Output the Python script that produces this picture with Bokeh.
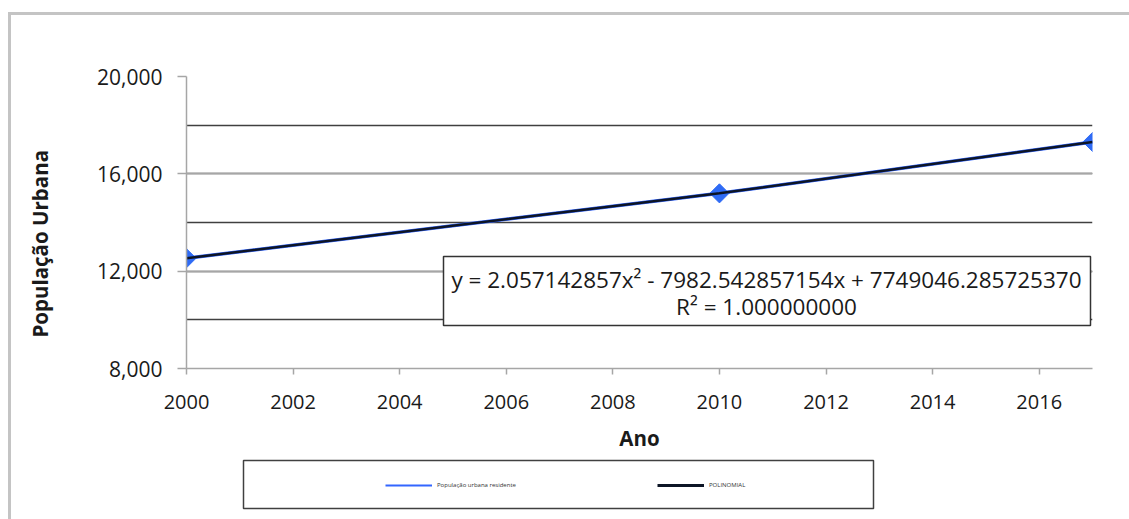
from bokeh.plotting import figure
from bokeh.layouts import column
from bokeh.models import (Range1d, SingleIntervalTicker, NumeralTickFormatter,
                          BoxAnnotation, Label, Legend, LegendItem, InlineStyleSheet)
from bokeh.embed import file_html
from bokeh.resources import INLINE

# ---- data ----
years = [2000, 2010, 2017]
populacao = [12532, 15198, 17309]
trend_years = [2000, 2010, 2017]
trend_vals = [12532, 15198, 17309]
series_names = ["População urbana residente", "POLINOMIAL"]
equation = "y = 2.057142857x² - 7982.542857154x + 7749046.285725370"
r_squared = "R² = 1.000000000"
x_title = "Ano"
y_title = "População Urbana"

FONT = "Open Sans"
NB = "\u00a0"
W, H_MAIN, H_LEG = 1129, 455, 64

p = figure(width=W, height=H_MAIN, output_backend="svg", toolbar_location=None,
           x_range=Range1d(2000, 2017), y_range=Range1d(8000, 20000),
           min_border_left=186, min_border_right=37,
           min_border_top=76, min_border_bottom=87)
p.outline_line_color = None
p.background_fill_color = "white"
p.border_fill_color = "white"

# axes
p.xaxis.ticker = SingleIntervalTicker(interval=2)
p.yaxis.ticker = SingleIntervalTicker(interval=4000, num_minor_ticks=2)
p.yaxis.formatter = NumeralTickFormatter(format="0,0")
for ax in (p.xaxis, p.yaxis):
    ax.axis_line_color = "#a6a6a6"
    ax.axis_line_width = 1.5
    ax.major_tick_line_color = "#a6a6a6"
    ax.major_tick_line_width = 1.5
    ax.major_tick_in = 0
    ax.minor_tick_line_color = None
    ax.major_label_text_font = FONT
    ax.major_label_text_color = "#1a1a1a"
    ax.axis_label_text_font = FONT
    ax.axis_label_text_font_size = "20.5px"
    ax.axis_label_text_font_style = "bold"
    ax.axis_label_text_color = "#1a1a1a"
p.xaxis.major_label_text_font_size = "20px"
p.yaxis.major_label_text_font_size = "21px"
p.xaxis.major_tick_out = 6
p.yaxis.major_tick_out = 9
p.xaxis.major_label_standoff = 20
p.yaxis.major_label_standoff = 15
p.xaxis.axis_label = x_title
p.yaxis.axis_label = y_title + NB * 8
p.xaxis.axis_label_standoff = 12
p.yaxis.axis_label_standoff = 40

# grids
p.xgrid.grid_line_color = None
p.ygrid.grid_line_color = "#a6a6a6"
p.ygrid.grid_line_width = 1.5
p.ygrid.minor_grid_line_color = "#404040"
p.ygrid.minor_grid_line_width = 1.5

# series
p.line(years, populacao, line_color="#3366FF", line_width=3.5)
p.scatter(years, populacao, marker="square", angle=0.785398, size=13.5,
          fill_color="#2F6BF5", line_color="#2F6BF5")
p.line(trend_years, trend_vals, line_color="#0d1526", line_width=2.5)

# equation box
p.add_layout(BoxAnnotation(left=443, right=1090, top=256, bottom=325,
                           left_units="canvas", right_units="canvas",
                           top_units="canvas", bottom_units="canvas",
                           fill_color="white", fill_alpha=1,
                           line_color="#333333", line_alpha=1, line_width=1.5))
p.add_layout(Label(x=766, y=279, x_units="canvas", y_units="canvas", text=equation,
                   text_align="center", text_baseline="middle",
                   text_font=FONT, text_font_size="22.5px", text_color="#1a1a1a"))
p.add_layout(Label(x=766, y=306, x_units="canvas", y_units="canvas", text=r_squared,
                   text_align="center", text_baseline="middle",
                   text_font=FONT, text_font_size="22.5px", text_color="#1a1a1a"))

# ---- legend strip below the chart ----
pl = figure(width=W, height=H_LEG, output_backend="svg", toolbar_location=None,
            x_range=Range1d(0, 1), y_range=Range1d(0, 1),
            x_axis_location=None, y_axis_location=None,
            min_border=0, min_border_left=0, min_border_right=0,
            min_border_top=0, min_border_bottom=0)
pl.outline_line_color = None
pl.xgrid.grid_line_color = None
pl.ygrid.grid_line_color = None
pl.background_fill_color = "white"
pl.border_fill_color = "white"

# legend-only renderers (the series lie outside this strip's ranges)
lg_blue = pl.line(years, populacao, line_color="#3366FF", line_width=2)
lg_black = pl.line(trend_years, trend_vals, line_color="#0d1526", line_width=3)

pl.add_layout(BoxAnnotation(left=243, right=873, top=5, bottom=53,
                            left_units="canvas", right_units="canvas",
                            top_units="canvas", bottom_units="canvas",
                            fill_alpha=0, line_color="#404040", line_alpha=1,
                            line_width=1.5))

legend = Legend(items=[LegendItem(label=series_names[0], renderers=[lg_blue]),
                       LegendItem(label=series_names[1], renderers=[lg_black])],
                location=(199, 29), orientation="horizontal",
                padding=0, spacing=5, margin=0,
                glyph_width=47, glyph_height=10, label_width=215, label_height=10,
                label_standoff=5, label_text_font=FONT, label_text_font_size="6px",
                label_text_color="#333333",
                border_line_color=None, background_fill_alpha=0)
pl.add_layout(legend)

layout = column(p, pl, spacing=0)
layout.stylesheets = [InlineStyleSheet(css=(
    ":host::after{content:'';position:absolute;left:8px;top:12px;right:0;bottom:0;"
    "border-top:3px solid #c4c4c4;border-left:3px solid #c4c4c4;pointer-events:none;}"))]

open("out.html", "w").write(file_html(layout, INLINE))
